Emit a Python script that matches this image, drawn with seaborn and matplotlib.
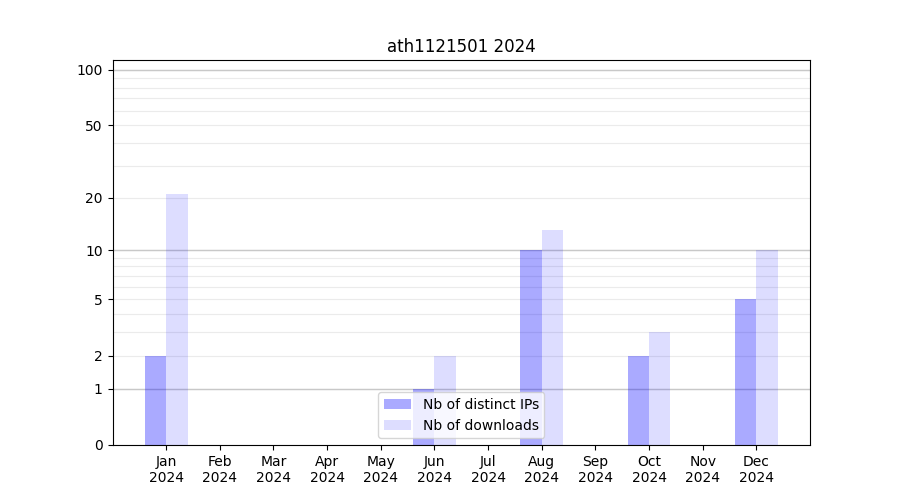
import numpy as np
import pandas as pd
import seaborn as sns
import matplotlib
matplotlib.use("Agg")
import matplotlib.pyplot as plt
from matplotlib.ticker import FixedLocator, FixedFormatter

title = "ath1121501 2024"
months = ["Jan", "Feb", "Mar", "Apr", "May", "Jun", "Jul", "Aug", "Sep", "Oct", "Nov", "Dec"]
year = 2024
distinct_ips = [2, 0, 0, 0, 0, 1, 0, 10, 0, 2, 0, 5]
downloads = [21, 0, 0, 0, 0, 2, 0, 13, 0, 3, 0, 10]

major_ticks = [0, 1, 2, 5, 10, 20, 50, 100]
minor_ticks = [3, 4, 6, 7, 8, 9, 30, 40, 60, 70, 80, 90]
decades = [1, 10, 100]


def fwd(x):
    return np.log10(np.maximum(x, 0) + 1)


def inv(y):
    return 10 ** y - 1


def build_frame():
    labels = [f"{m}\n{year}" for m in months]
    df = pd.DataFrame({
        "month": labels * 2,
        "value": distinct_ips + downloads,
        "series": ["Nb of distinct IPs"] * 12 + ["Nb of downloads"] * 12,
    })
    return df, labels


def main():
    df, labels = build_frame()
    fig, ax = plt.subplots(figsize=(9, 5), dpi=100)

    ax.set_yscale("function", functions=(fwd, inv))

    sns.barplot(data=df, x="month", y="value", hue="series", order=labels,
                palette=[(0, 0, 1, 0.333), (0, 0, 1, 0.135)], saturation=1,
                linewidth=0, width=0.8, errorbar=None, ax=ax, zorder=2)

    # grid: light lines everywhere, darker at the decades
    ax.yaxis.set_major_locator(FixedLocator(major_ticks))
    ax.yaxis.set_major_formatter(FixedFormatter([str(t) for t in major_ticks]))
    ax.yaxis.set_minor_locator(FixedLocator(minor_ticks))
    ax.tick_params(axis="y", which="minor", length=0)
    ax.grid(which="both", axis="y", color="#ebebeb", linewidth=0.8, zorder=0)
    ax.set_axisbelow(True)
    for d in decades:
        ax.axhline(d, color="#c8c8c8", linewidth=1.0, zorder=1)

    ax.set_ylim(0, 113)
    ax.set_xlim(-1, 12)
    ax.set_xlabel("")
    ax.set_ylabel("")
    ax.set_title(title)
    ax.legend(loc="lower center")

    fig.savefig("out.png", dpi=100)


if __name__ == "__main__":
    main()
